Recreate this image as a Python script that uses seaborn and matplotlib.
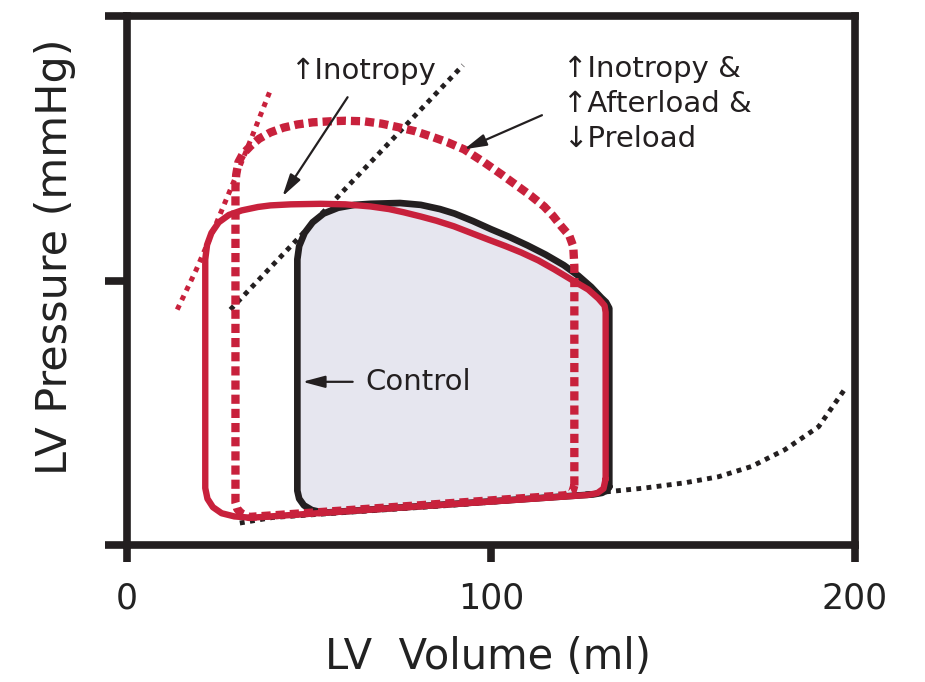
import matplotlib
matplotlib.use("Agg")
import matplotlib.pyplot as plt
import seaborn as sns
import pandas as pd

# ---- pressure-volume data (volume in ml, pressure in mmHg) ----
# Control loop: right edge (isovolumic contraction), ejection across the top,
# left edge (isovolumic relaxation), filling along the bottom
control_vol = [132.5, 132.5, 131.6, 130.3, 127.5, 124.0, 120.0, 115.0, 110.0, 105.0,
               100.0, 95.0, 90.0, 86.0, 80.7, 75.0, 66.9, 62.5, 58.0, 54.0,
               51.0, 48.8, 47.3, 46.8, 46.8, 47.3, 48.6, 50.8, 54.0, 128.0,
               130.5, 131.9, 132.5]
control_prs = [22.0, 89.5, 91.8, 93.5, 97.6, 101.8, 105.8, 109.8, 113.3, 116.5,
               119.4, 122.5, 125.3, 127.0, 128.6, 129.3, 129.0, 128.6, 127.5, 125.3,
               122.0, 118.0, 113.0, 108.0, 20.5, 17.5, 15.0, 13.2, 12.2, 19.1,
               19.7, 20.7, 22.0]

# Increased inotropy loop
ino_vol = [131.5, 131.5, 131.2, 129.5, 126.7, 122.0, 117.4, 113.0, 108.3, 104.0,
           99.2, 94.5, 89.8, 85.0, 80.7, 76.0, 72.0, 66.9, 60.0, 53.2,
           45.0, 39.4, 36.0, 31.5, 28.0, 25.2, 23.2, 22.0, 21.5, 21.5,
           22.1, 23.6, 26.0, 29.5, 34.0, 126.5, 129.2, 130.9, 131.5]
ino_prs = [25.0, 88.0, 90.5, 93.2, 96.6, 100.4, 104.2, 107.6, 110.6, 113.0,
           115.5, 118.0, 120.5, 122.6, 124.2, 125.8, 127.0, 128.0, 128.8, 129.0,
           128.8, 128.4, 127.8, 126.5, 124.8, 122.0, 118.0, 113.5, 108.0, 21.5,
           17.5, 14.3, 12.0, 10.8, 10.3, 18.9, 19.6, 21.3, 25.0]

# Increased inotropy + afterload, decreased preload loop
combo_vol = [122.9, 122.9, 122.6, 121.5, 119.3, 117.0, 114.6, 111.0, 107.4, 103.0,
             98.1, 92.6, 88.0, 83.5, 79.0, 74.4, 70.0, 65.0, 60.0, 55.9,
             51.0, 46.8, 43.0, 39.4, 36.3, 33.9, 31.8, 30.6, 30.0, 29.8,
             29.8, 30.3, 31.4, 33.5, 120.5, 122.3, 122.9]
combo_prs = [22.5, 105.3, 112.9, 117.0, 120.5, 124.5, 128.0, 132.0, 135.6, 140.0,
             144.7, 149.6, 152.3, 154.5, 156.5, 158.0, 159.3, 160.2, 160.4, 160.2,
             159.8, 159.0, 157.8, 156.0, 153.6, 150.8, 147.8, 144.7, 140.0, 135.6,
             16.0, 13.6, 12.0, 10.6, 18.8, 19.8, 22.5]

# End-diastolic pressure-volume relation
edpvr_vol = [31.0, 40.0, 60.0, 90.0, 115.0, 131.0, 142.0, 153.2, 162.5, 171.6, 180.7, 190.0, 197.5]
edpvr_prs = [8.3, 10.4, 12.3, 15.1, 17.8, 20.0, 21.5, 23.5, 25.8, 29.7, 36.0, 44.7, 59.5]

# End-systolic pressure-volume relations
espvr_vol = [28.4, 92.3]
espvr_prs = [89.0, 181.4]
espvr_ino_vol = [13.8, 19.0, 24.5, 29.5, 34.5, 39.4]
espvr_ino_prs = [89.0, 104.0, 121.5, 138.0, 155.0, 172.0]

x_ticks = [0, 100, 200]
y_ticks = [0, 100, 200]

RED = "#c8213c"
INK = "#231f20"
FILL = "#e6e6ef"

sns.set_style("ticks")
plt.rcParams["font.family"] = ["DejaVu Sans"]

fig = plt.figure(figsize=(9.25, 6.82), dpi=100)
ax = fig.add_axes([0.1373, 0.2009, 0.787, 0.7756])


def trace(vol, prs, color, lw, z, dashes=None):
    df = pd.DataFrame({"vol": vol, "prs": prs})
    sns.lineplot(data=df, x="vol", y="prs", sort=False, estimator=None,
                 color=color, linewidth=lw, ax=ax, zorder=z)
    line = ax.lines[-1]
    line.set_solid_joinstyle("round")
    line.set_solid_capstyle("round")
    if dashes is not None:
        line.set_dashes(dashes)
        line.set_dash_capstyle("butt")
    return line


# shaded control loop
ax.fill(control_vol, control_prs, color=FILL, zorder=1, lw=0)

# pressure-volume relations
trace(edpvr_vol, edpvr_prs, INK, 3.5, 2, dashes=(1.0, 1.1))
trace(espvr_vol, espvr_prs, INK, 3.5, 2, dashes=(1.0, 1.1))
trace(espvr_ino_vol, espvr_ino_prs, RED, 3.6, 4, dashes=(1.0, 1.1))

# loops
trace(control_vol, control_prs, INK, 4.8, 3)
trace(combo_vol, combo_prs, RED, 6.0, 3.5, dashes=(1.1, 0.6))
trace(ino_vol, ino_prs, RED, 4.6, 4)

# annotations
txt = dict(fontsize=21, color=INK, ha="left", va="center", zorder=7)
arrow = dict(arrowstyle="-|>,head_length=0.75,head_width=0.2", color=INK,
             lw=1.6, mutation_scale=18, shrinkA=0, shrinkB=0)
ax.text(44.9, 179.2, "\u2191Inotropy", **txt)
ax.annotate("", xy=(42.7, 131.8), xytext=(60.6, 169.3), arrowprops=arrow, zorder=7)

ax.text(119.8, 180.0, "\u2191Inotropy &", **txt)
ax.text(119.8, 166.7, "\u2191Afterload &", **txt)
ax.text(119.8, 153.4, "\u2193Preload", **txt)
ax.annotate("", xy=(92.6, 149.6), xytext=(114.0, 162.5), arrowprops=arrow, zorder=7)

ax.text(65.6, 61.7, "Control", **txt)
ax.annotate("", xy=(48.2, 61.7), xytext=(62.0, 61.7), arrowprops=arrow, zorder=7)

# axes styling
ax.set_xlim(0, 200)
ax.set_ylim(0, 200)
ax.set_xticks(x_ticks)
ax.set_yticks(y_ticks)
ax.set_xticklabels([str(t) for t in x_ticks])
for side in ["left", "right", "top", "bottom"]:
    sp = ax.spines[side]
    sp.set_visible(True)
    sp.set_linewidth(5.5)
    sp.set_color(INK)
    sp.set_capstyle("projecting")
    sp.set_zorder(8)
ax.tick_params(axis="y", length=16, width=5.5, color=INK, labelleft=False)
ax.tick_params(axis="x", length=12, width=5.5, color=INK, pad=14,
               labelsize=25, labelcolor="#222222")

ax.set_xlabel("LV  Volume (ml)", fontsize=30, color="#222222", va="center")
ax.set_ylabel("LV Pressure (mmHg)", fontsize=31, color="#222222", va="center")
ax.xaxis.set_label_coords(0.496, -0.212)
ax.yaxis.set_label_coords(-0.099, 0.545)

fig.savefig("out.png", dpi=100)
